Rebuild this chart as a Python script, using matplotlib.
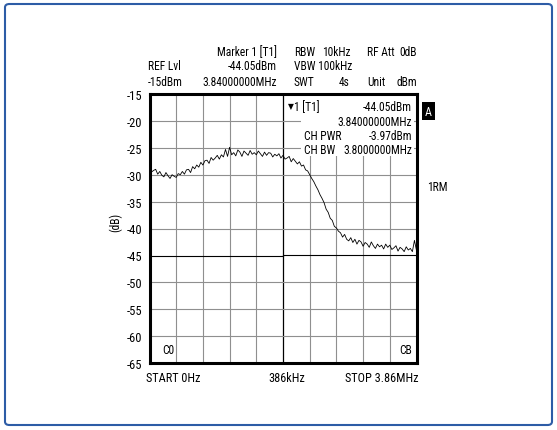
import numpy as np
import matplotlib
matplotlib.use("Agg")
import matplotlib.pyplot as plt
from matplotlib.patches import Rectangle, FancyBboxPatch
from matplotlib import font_manager as fm

# ---- data ----
f_start_mhz = 0.0
f_stop_mhz = 3.86
y_ticks = [-15, -20, -25, -30, -35, -40, -45, -50, -55, -60, -65]
trace_db = [
    -28.8, -29.5, -29.2, -29.0, -29.9, -29.4, -30.1, -30.4, -29.6, -30.2, -30.7, -30.0, -30.3,
    -30.5, -29.8, -30.0, -29.4, -29.9, -29.1, -29.0, -29.6, -28.5, -28.9, -28.2, -28.6, -27.7,
    -28.2, -27.4, -27.3, -27.9, -26.8, -27.3, -26.9, -26.4, -27.1, -26.3, -26.7, -25.3, -26.6,
    -24.9, -26.3, -25.9, -26.5, -25.4, -25.8, -26.6, -25.6, -26.0, -26.4, -25.5, -26.2, -25.9,
    -26.3, -25.6, -26.1, -26.6, -25.8, -26.4, -25.9, -26.0, -26.7, -26.2, -26.5, -26.1, -26.9,
    -26.4, -27.1, -26.9, -26.6, -27.6, -27.0, -27.5, -28.0, -27.6, -28.4, -28.2, -29.1, -29.3,
    -30.0, -30.7, -31.3, -32.1, -32.8, -33.7, -34.4, -35.2, -36.4, -37.0, -38.1, -38.5, -39.6,
    -39.9, -40.5, -40.8, -41.6, -41.1, -42.0, -42.3, -41.7, -42.6, -42.0, -42.9, -42.2, -42.5,
    -43.3, -42.6, -42.9, -43.5, -42.5, -43.2, -43.7, -42.9, -43.4, -43.1, -43.8, -42.9, -43.5,
    -43.1, -43.9, -43.6, -43.2, -44.2, -43.5, -43.8, -44.3, -43.4, -44.0, -43.7, -44.3, -42.2,
    -44.1,
]
freq_mhz = np.linspace(f_start_mhz, f_stop_mhz, len(trace_db))

# ---- pick a condensed font if available ----
def pick_font():
    prefs = ['Liberation Sans Narrow', 'Roboto Condensed', 'Open Sans Condensed',
             'Noto Sans Condensed', 'DejaVu Sans Condensed']
    regular = [f for f in fm.fontManager.ttflist
               if f.style == 'normal' and f.weight in (400, 'normal', 'regular')]
    for p in prefs:
        for f in regular:
            if f.name == p:
                return f.fname, 8.3
    for f in regular:
        if f.stretch in ('condensed', 'semi-condensed') and f.name in (
                'DejaVu Sans', 'Noto Sans', 'Roboto', 'Open Sans'):
            return f.fname, 8.2
    for f in regular:
        if 'Narrow' in f.name or 'Condensed' in f.name:
            return f.fname, 8.2
    return None, 7.0

fname, fs = pick_font()
if fname:
    FP = lambda size=fs: fm.FontProperties(fname=fname, size=size)
else:
    FP = lambda size=fs: fm.FontProperties(family='Liberation Sans', size=size)

W, H = 557, 431
fig = plt.figure(figsize=(W / 100, H / 100), dpi=100)

def P(x, y):
    return (x / W, 1 - y / H)

# outer blue frame
fig.patches.append(FancyBboxPatch(P(5, 426), 547 / W, 421 / H,
                                  boxstyle="round,pad=0,rounding_size=0.008",
                                  transform=fig.transFigure, fill=False,
                                  edgecolor='#2d5ca6', linewidth=1.5))

L, R, T, B = 149.5, 416.5, 95, 364
ax = fig.add_axes([L / W, 1 - B / H, (R - L) / W, (B - T) / H])
ax.set_xlim(f_start_mhz, f_stop_mhz)
ax.set_ylim(-65, -15)

div = (f_stop_mhz - f_start_mhz) / 10
grid_c = '#8f8f8f'
for i in range(1, 10):
    xv = f_start_mhz + i * div
    ax.axvline(xv, color='black' if i == 5 else grid_c, lw=0.9 if i == 5 else 0.8, zorder=1)
for yv in y_ticks[1:-1]:
    if yv == -45:
        continue
    ax.axhline(yv, color=grid_c, lw=0.8, zorder=1)
# display line around -45
ax.plot([f_start_mhz, f_start_mhz + 5 * div], [-45.2, -45.2], color='black', lw=0.8, zorder=1)
ax.plot([f_start_mhz + 5 * div, f_stop_mhz], [-44.95, -44.95], color='black', lw=0.8, zorder=1)

ax.plot(freq_mhz, trace_db, color='black', lw=0.6, zorder=3)

# marker info box (white)
bx0 = f_start_mhz + (301 - L) / (R - L) * (f_stop_mhz - f_start_mhz)
bx1 = f_start_mhz + (413.5 - L) / (R - L) * (f_stop_mhz - f_start_mhz)
by1 = -15 - (96.5 - T) / (B - T) * 50
by0 = -15 - (157 - T) / (B - T) * 50
ax.add_patch(Rectangle((bx0, by0), bx1 - bx0, by1 - by0, facecolor='white',
                       edgecolor='none', zorder=2))

for s in ax.spines.values():
    s.set_linewidth(2.2)
    s.set_zorder(5)
ax.set_xticks([])
ax.set_yticks(y_ticks)
ax.set_yticklabels([str(v) for v in y_ticks])
for lab in ax.get_yticklabels():
    lab.set_fontproperties(FP(fs + 0.7))
ax.tick_params(axis='y', length=0, pad=5)

def t(x, y, s, ha='left', size=None, **kw):
    fig.text(*P(x, y), s, ha=ha, va='center',
             fontproperties=FP(size if size else fs), **kw)

# header
t(277, 53, 'Marker 1 [T1]', ha='right')
t(294, 53, 'RBW')
t(351, 53, '10kHz', ha='right')
t(367, 53, 'RF Att')
t(417, 53, '0dB', ha='right')
t(148, 67, 'REF Lvl')
t(277, 67, '-44.05dBm', ha='right')
t(294, 67, 'VBW 100kHz')
t(148, 82, '-15dBm')
t(277, 82, '3.84000000MHz', ha='right')
t(294, 82, 'SWT')
t(349, 82, '4s', ha='right')
t(367, 82, 'Unit')
t(417, 82, 'dBm', ha='right')

# marker box text
fig.text(*P(288, 107), '\u25bc', ha='left', va='center', fontsize=5.5, family='DejaVu Sans')
t(294, 108, '1 [T1]')
t(412, 108, '-44.05dBm', ha='right')
t(412, 122, '3.84000000MHz', ha='right')
t(304, 136, 'CH PWR')
t(412, 136, '-3.97dBm', ha='right')
t(304, 151, 'CH BW')
t(412, 151, '3.8000000MHz', ha='right')

# right side
fig.text(*P(428.5, 112), 'A', ha='center', va='center', color='white',
         fontproperties=FP(fs + 0.3),
         bbox=dict(boxstyle='square,pad=0.25', facecolor='black', edgecolor='none'))
t(427, 188, '1RM')

# y label
fig.text(*P(116, 222), '(dB)', rotation=90, ha='center', va='center', fontproperties=FP())

# bottom labels
t(162, 351, 'C0')
t(412, 351, 'CB', ha='right')
t(146, 379, 'START 0Hz', size=fs + 0.5)
t(287, 379, '386kHz', ha='center', size=fs + 0.5)
t(418, 379, 'STOP 3.86MHz', ha='right', size=fs + 0.5)

fig.savefig('out.png', dpi=100)
